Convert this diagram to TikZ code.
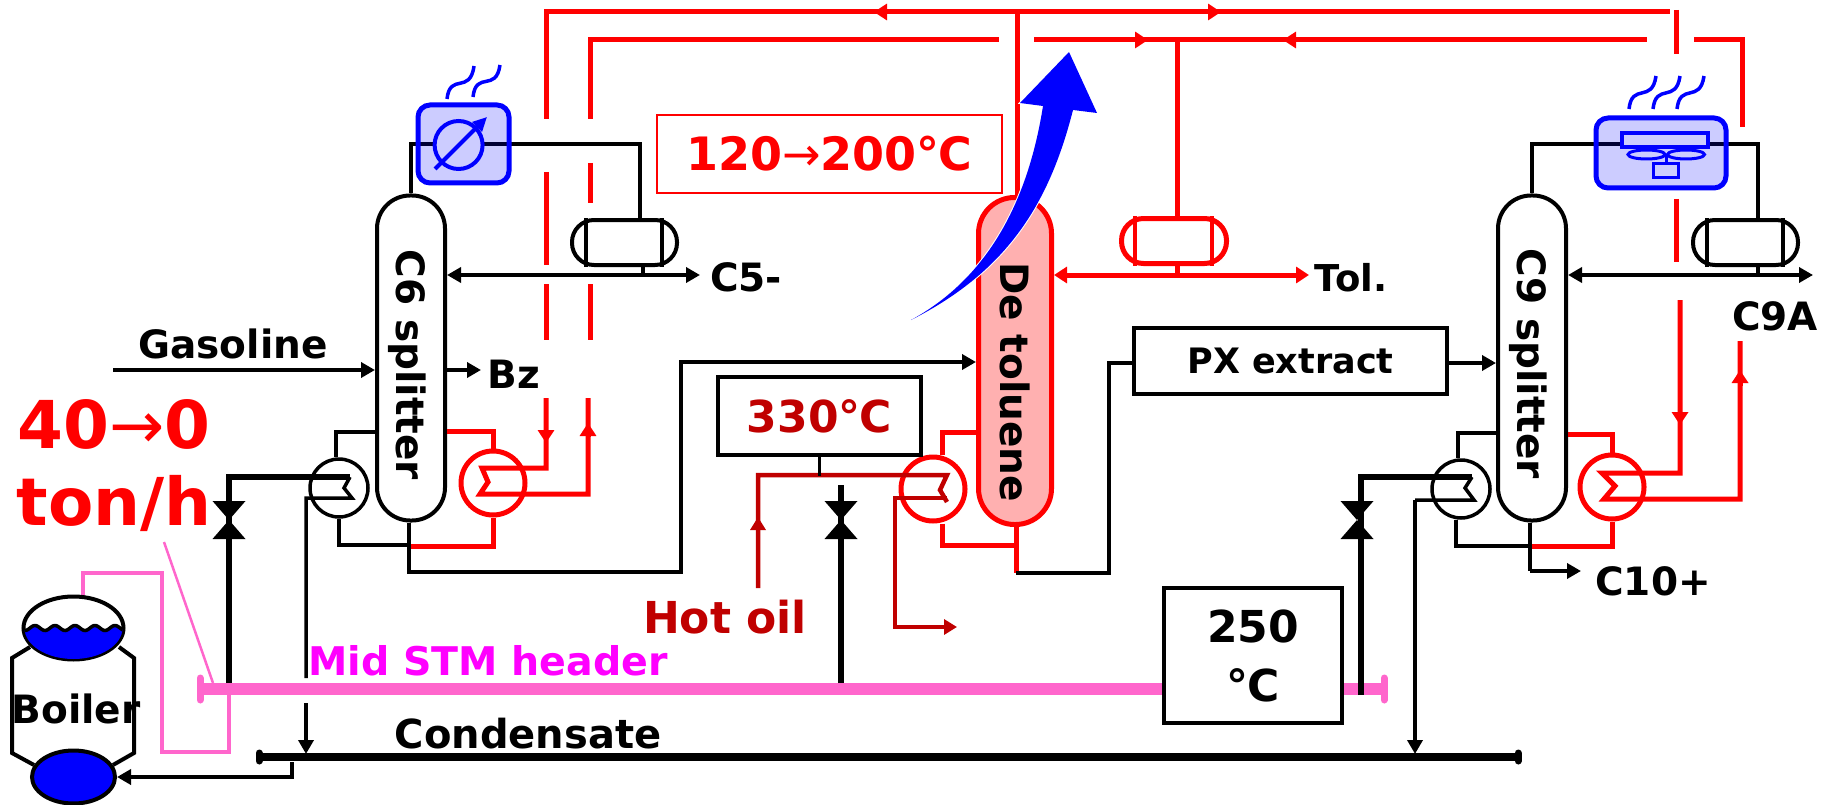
\documentclass[tikz,border=0pt]{standalone}
\usepackage{fontspec}
\setmainfont{DejaVu Sans}
\usetikzlibrary{arrows.meta,shapes.geometric}

\definecolor{hotred}{RGB}{255,0,0}
\definecolor{oilred}{RGB}{192,0,0}
\definecolor{stmpink}{RGB}{255,102,204}
\definecolor{stmtext}{RGB}{255,0,255}
\definecolor{coolfill}{RGB}{204,204,255}
\definecolor{colfill}{RGB}{255,176,176}
\newcommand{\thinarrow}{{\mdseries→}}

\tikzset{
	pipe/.style={draw=black, line width=3.5pt},
	pipetip/.style={pipe, -{Triangle[length=14pt,width=15pt]}},
	steampipe/.style={draw=black, line width=5.5pt},
	hotpipe/.style={draw=hotred, line width=5pt},
	hottip/.style={hotpipe, -{Triangle[length=13pt,width=16pt]}},
	oilpipe/.style={draw=oilred, line width=4.5pt},
	oiltip/.style={oilpipe, -{Triangle[length=13pt,width=15pt]}},
	tower/.style={rectangle, draw=black, line width=4pt, rounded corners=33pt, inner sep=0pt, minimum width=68pt, minimum height=325pt},
	exchanger/.style={circle, draw=black, line width=3.5pt, inner sep=0pt, minimum size=#1},
	drum/.style={rectangle, draw=black, line width=4pt, rounded corners=22pt, inner sep=0pt, minimum width=105pt, minimum height=45pt},
	cooler/.style={rectangle, draw=blue, line width=5pt, rounded corners=12pt, inner sep=0pt, fill=blue, fill opacity=0.2, text opacity=1},
	fume/.style={draw=blue, line width=3.5pt},
	tag/.style={font=\bfseries\fontsize{39}{41}\selectfont, inner sep=0pt, anchor=base},
	towertag/.style={font=\bfseries\fontsize{39}{41}\selectfont, inner sep=0pt, rotate=-90},
	tagbox/.style={rectangle, draw=black, line width=4pt, fill=white, inner sep=0pt, font=\bfseries\fontsize{#1}{#1}\selectfont},
}

\begin{document}
\begin{tikzpicture}[x=1pt, y=-1pt]
	\useasboundingbox (0,0) rectangle (1833,805);

	% Columns
	\node[tower] (colC6) at (411,358) {};
	\node[tower, draw=hotred, line width=5pt, fill=colfill, rounded corners=36pt, minimum width=73pt, minimum height=327pt] (colDT) at (1015,361) {};
	\node[tower] (colC9) at (1532,358) {};

	% Exchangers, drums, coolers
	\node[exchanger=58pt] (hxC6) at (339,488) {};
	\node[exchanger=58pt] (hxC9) at (1461,489) {};
	\node[exchanger=64pt, draw=hotred, line width=5pt] (rbC6) at (493,483) {};
	\node[exchanger=64pt, draw=hotred, line width=5pt] (rbDT) at (933,489) {};
	\node[exchanger=64pt, draw=hotred, line width=5pt] (rbC9) at (1612,487) {};
	\node[drum] (drumC6) at (624.5,242.5) {};
	\node[drum, draw=hotred, line width=5pt] (drumDT) at (1174,241) {};
	\node[drum] (drumC9) at (1745.5,242.5) {};
	\foreach \d/\c in {drumC6/black, drumDT/hotred, drumC9/black}
		\draw[draw=\c, line width=4pt] ([xshift=16pt]\d.north west) -- ([xshift=16pt]\d.south west)
			([xshift=-17pt]\d.north east) -- ([xshift=-17pt]\d.south east);

	% Free ends and junctions
	\foreach \n/\x/\y in {refluxC6/643/275, refluxDT/1177/275, refluxC9/1758/275,
		endC5/700/275, endTol/1309/275, endC9A/1813/275, feedGas/113/370, outBz/481/370,
		valveC6/229/520, valveDT/841/520, valveC9/1357/520,
		botC6/409/572, botDT/1016/573, botC9/1530/571, endC10/1581/571,
		stmL/200/689, stmR/1384/689, condL/259/757, condR/1518/757}
		\coordinate (\n) at (\x,\y);

	% Overhead lines
	\draw[pipe] (colC6.north) |- (463,144);
	\draw[pipe] (463,144) -| (drumC6.north -| 640,0);
	\draw[pipe] (colC9.north) |- (1660,144);
	\draw[pipe] (1660,144) -| (drumC9.north -| 1758,0);
	\draw[pipe] (drumC6.south -| refluxC6) -- (refluxC6);
	\draw[pipe] (drumC9.south -| refluxC9) -- (refluxC9);
	\draw[pipetip] (refluxC6) -- (colC6.east |- refluxC6);
	\draw[pipetip] (refluxC6) -- (endC5);
	\draw[pipetip] (refluxC9) -- (colC9.east |- refluxC9);
	\draw[pipetip] (refluxC9) -- (endC9A);
	\draw[hotpipe] (drumDT.north -| refluxDT) -- (1177,40);
	\draw[hotpipe] (drumDT.south -| refluxDT) -- (refluxDT);
	\draw[hottip] (refluxDT) -- (colDT.east |- refluxDT);
	\draw[hottip] (refluxDT) -- (endTol);

	% Heat recovery loop
	\draw[hotpipe] (546,119) |- (1670,12);
	\draw[hotpipe] (590,119) |- (999,40);
	\draw[hotpipe] (1034,40) -- (1647,40);
	\draw[hotpipe] (1694,40) -| (1742,127);
	\draw[hotpipe] (1017,12) -- (colDT.north -| 1017,0);
	\foreach \x/\a/\b in {546/172/265, 546/284/340, 590/163/203, 590/284/340, 1676/10/54, 1676/199/262}
		\draw[hotpipe] (\x,\a) -- (\x,\b);
	\foreach \ax/\ay/\bx/\by in {886/12/874/12, 1208/12/1221/12, 1135/40/1148/40, 1296/40/1283/40,
		546/430/546/443, 588/437/588/423, 1680/412/1680/425, 1740/386/1740/370}
		\draw[hottip] (\ax,\ay) -- (\bx,\by);

	% Reboilers, C6
	\draw[hotpipe] (546,398) |- (482,468) -- (488,482) -- (480,494) -| (588,398);
	\draw[hotpipe] (colC6.east |- 0,431) -| (rbC6.north);
	\draw[hotpipe] (rbC6.south) |- (411,546);
	\draw[pipe] (colC6.west |- 0,432) -| (hxC6.north -| 336,0);
	\draw[pipe] (hxC6.south) |- (409,545);
	\draw[pipe] (colC6.south -| botC6) -- (botC6) -- (681,572) |- (900,362);
	\draw[pipetip] (900,362) -- (colDT.west |- 0,362);

	% Reboilers, De toluene
	\draw[oilpipe] (758,588) |- (947,475) -- (940,490) -- (947,502);
	\draw[oilpipe] (947,498) -| (895,627) -- (945,627);
	\draw[oiltip] (758,532) -- (758,517);
	\draw[oiltip] (940,627) -- (957,627);
	\draw[hotpipe] (colDT.west |- 0,432) -| (rbDT.north -| 942,0);
	\draw[hotpipe] (rbDT.south -| 942,0) |- (1016,545);
	\draw[hotpipe] (colDT.south -| botDT) -- (botDT);
	\draw[pipe] (botDT) -- (1109,573) |- (1134,363);

	% Reboilers, C9
	\draw[hotpipe] (1680,300) |- (1602,473) -- (1615,486) -- (1604,499) -| (1740,341);
	\draw[hotpipe] (colC9.east |- 0,434) -| (rbC9.north);
	\draw[hotpipe] (rbC9.south) |- (1530,546);
	\draw[pipe] (colC9.west |- 0,433) -| (hxC9.north -| 1458,0);
	\draw[pipe] (hxC9.south -| 1456,0) |- (1530,546);
	\draw[pipe] (colC9.south -| botC9) -- (botC9);
	\draw[pipetip] (botC9) -- (endC10);
	\draw[pipetip] (1447,363) -- (colC9.west |- 0,363);

	% Feed and side draw
	\draw[pipetip] (feedGas) -- (colC6.west |- feedGas);
	\draw[pipetip] (colC6.east |- outBz) -- (outBz);

	% Steam header
	\draw[line width=12pt, draw=stmpink] (stmL) -- (stmR);
	\draw[line width=7pt, draw=stmpink, line cap=round] (stmL) ++(0,-11) -- ++(0,22);
	\draw[line width=7pt, draw=stmpink, line cap=round] (stmR) ++(0,-11) -- ++(0,22);
	\draw[line width=2.5pt, draw=stmpink] (164,542) -- (213,683);
	\draw[line width=4pt, draw=stmpink] (83,598) |- (162,573) |- (229,752) -- (229,693);

	% Steam and condensate lines
	\draw[steampipe] (valveC6) ++(0,163) -- (229,477) -- (350,477);
	\draw[pipe] (350,477) -- (344,488) -- (352,498) -- (306,498) -- (306,678);
	\draw[pipetip] (306,703) -- (306,754);
	\draw[steampipe] (841,683) -- (valveDT) -- (841,485);
	\draw[steampipe] (1361,695) |- (1472,477);
	\draw[pipe] (1472,477) -- (1465,488) -- (1474,500) -- (1415,500);
	\draw[pipetip] (1415,500) -- (1415,754);
	\foreach \v in {valveC6, valveDT, valveC9}
		\fill[black] (\v) -- ++(-16.5,-19) -- ++(33,0) -- cycle (\v) -- ++(-16.5,19) -- ++(33,0) -- cycle;
	\draw[line width=8pt, draw=black] (condL) -- (condR);
	\draw[line width=7pt, draw=black, line cap=round] (condL) ++(0,-4) -- ++(0,8);
	\draw[line width=7pt, draw=black, line cap=round] (condR) ++(0,-4) -- ++(0,8);

	% Boiler
	\draw[line width=4pt] (30,647) -- (12,658) -- (12,753) -- (34,765) (119,647) -- (134,658) -- (134,753) -- (113,765);
	\node[ellipse, draw=black, line width=4pt, fill=white, minimum width=100pt, minimum height=63pt, inner sep=0pt] (drumTop) at (73.5,628) {};
	\begin{scope}
		\clip (73.5,628) circle[x radius=49pt, y radius=31pt];
		\fill[blue] plot[domain=20:125, samples=80] (\x,{628+2.5*sin(\x*18)}) -- (125,665) -- (20,665) -- cycle;
		\draw[line width=3.5pt] plot[domain=20:125, samples=80] (\x,{628+2.5*sin(\x*18)});
	\end{scope}
	\node[ellipse, draw=black, line width=4pt, fill=blue, minimum width=83pt, minimum height=53pt, inner sep=0pt] (drumLow) at (73.5,777) {};
	\draw[pipetip] (292,762) |- (drumLow.east);

	% Coolers
	\draw[fume] (447,99) .. controls (450,72) and (470,95) .. (474,66);
	\draw[fume] (473,97) .. controls (476,70) and (496,93) .. (500,65);
	\node[cooler, minimum width=91pt, minimum height=78pt] (cndC6) at (463.5,144) {};
	\node[circle, draw=blue, line width=4pt, fill=coolfill, minimum size=48pt, inner sep=0pt] (dialC6) at (458.6,145) {};
	\draw[blue, line width=4pt, -{Triangle[length=14pt,width=13pt]}] (435,169) -- (487,117);
	\foreach \x in {1629,1653,1677}
		\draw[fume] (\x,109) .. controls (\x+3,82) and (\x+23,104) .. (\x+27,76);
	\node[cooler, minimum width=130pt, minimum height=70pt] (cndC9) at (1661,153) {};
	\draw[blue, line width=4pt, fill=coolfill] (1622,133) rectangle (1708,147);
	\draw[blue, line width=3pt] (1646.5,154.5) ellipse[x radius=18.5pt, y radius=4.5pt] (1686,154.5) ellipse[x radius=18.5pt, y radius=4.5pt];
	\draw[blue, line width=3pt] (1666,155) -- (1666,164);
	\draw[blue, line width=3pt, fill=coolfill] (1653,164) rectangle (1678,178);

	% Blue arrow
	\fill[blue, preaction={draw=white, line width=2pt}] (911,320) .. controls (975,285) and (1025,220) .. (1043,106) -- (1020,103) -- (1069,52) -- (1097,113) -- (1073,110) .. controls (1050,200) and (1010,270) .. cycle;

	% Boxes
	\node[tagbox=46, draw=hotred, line width=2pt, fill=none, text=hotred, minimum width=345pt, minimum height=78pt] (boxDuty) at (829.5,154) {120\thinarrow 200℃};
	\node[tagbox=44, text=oilred, minimum width=203pt, minimum height=78pt] (boxOil) at (819.5,416) {330℃};
	\node[tagbox=35, minimum width=313pt, minimum height=66pt] (boxPX) at (1290.5,361) {PX extract};
	\node[tagbox=44, align=center, minimum width=178pt, minimum height=135pt] (boxStm) at (1253,655.5) {250\\[15pt]℃};
	\draw[pipe] (boxOil.south) -- (boxOil.south |- 0,476);

	% Labels
	\node[towertag] (tagC6) at (407,365) {C6 splitter};
	\node[towertag] (tagDT) at (1015,382) {De toluene};
	\node[towertag] (tagC9) at (1528,364) {C9 splitter};
	\node[tag] (tagGas) at (233,358) {Gasoline};
	\node[tag] (tagC5) at (746,291) {C5-};
	\node[tag] (tagBz) at (514,388) {Bz};
	\node[tag, font=\bfseries\fontsize{37}{39}\selectfont] (tagTol) at (1351,291) {Tol.};
	\node[tag] (tagC9A) at (1775,330) {C9A};
	\node[tag] (tagC10) at (1653,595) {C10+};
	\node[tag] (tagBoil) at (76,723) {Boiler};
	\node[tag, font=\bfseries\fontsize{40}{42}\selectfont] (tagCond) at (528,748) {Condensate};
	\node[tag, text=stmtext, font=\bfseries\fontsize{39.5}{42}\selectfont] (tagStm) at (488,675) {Mid STM header};
	\node[tag, text=oilred, font=\bfseries\fontsize{44}{46}\selectfont] (tagOil) at (725,633) {Hot oil};
	\node[tag, text=hotred, font=\bfseries\fontsize{66}{68}\selectfont] (tagFlow) at (114,448) {40\thinarrow 0};
	\node[tag, text=hotred, font=\bfseries\fontsize{66}{68}\selectfont] (tagUnit) at (114,525) {ton/h};
\end{tikzpicture}
\end{document}
